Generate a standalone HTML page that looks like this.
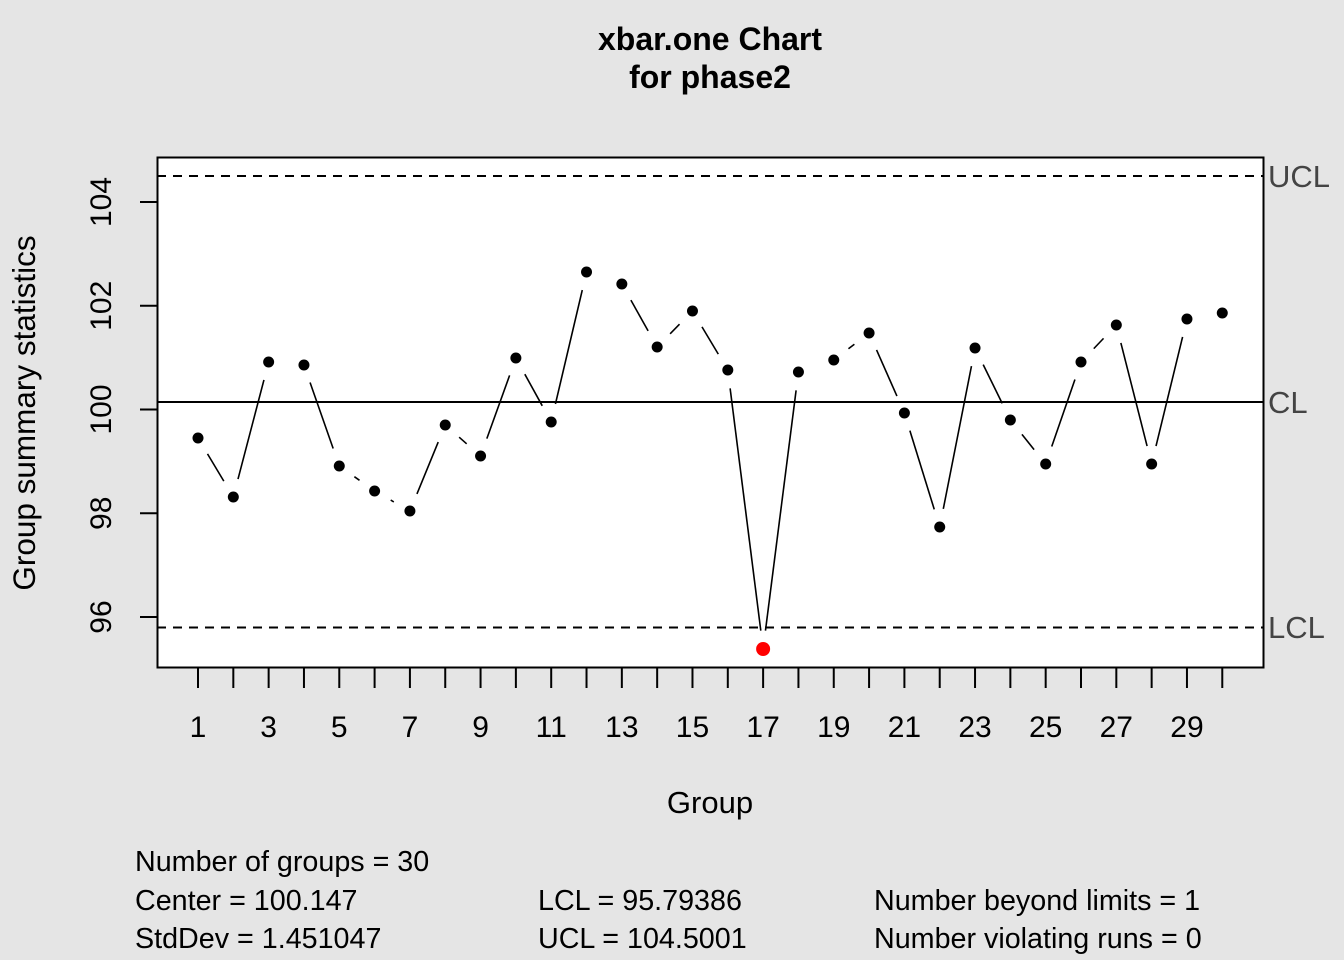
<!DOCTYPE html>
<html><head><meta charset="utf-8"><style>
html,body{margin:0;padding:0;background:#e5e5e5;}
svg{display:block;font-family:"Liberation Sans",sans-serif;}
</style></head><body>
<svg id="s" width="1344" height="960" xmlns="http://www.w3.org/2000/svg">
<rect width="1344" height="960" fill="#e5e5e5"/>
<rect x="157.5" y="157.5" width="1106" height="510" fill="#fff" stroke="#000" stroke-width="2"/>
<text x="710" y="50" font-size="32" font-weight="bold" text-anchor="middle">xbar.one Chart</text>
<text x="710" y="88" font-size="32" font-weight="bold" text-anchor="middle">for phase2</text>
<line x1="157" y1="176" x2="1263" y2="176" stroke="#000" stroke-width="2" stroke-dasharray="9,7"/>
<line x1="157" y1="627.5" x2="1263" y2="627.5" stroke="#000" stroke-width="2" stroke-dasharray="9,7"/>
<line x1="157" y1="402" x2="1263" y2="402" stroke="#000" stroke-width="2"/>
<g font-size="31" fill="#444">
<text x="1268" y="187">UCL</text><text x="1268" y="413">CL</text><text x="1268" y="638">LCL</text>
</g>
<g id="yt" font-size="30"></g>
<g id="xt" font-size="30"></g>
<g id="ser"></g>
<text x="710" y="813" font-size="31" text-anchor="middle">Group</text>
<text transform="translate(35,413) rotate(-90)" font-size="31.5" text-anchor="middle">Group summary statistics</text>
<g font-size="28.7">
<text x="135" y="871">Number of groups = 30</text>
<text x="135" y="910">Center = 100.147</text>
<text x="135" y="948">StdDev = 1.451047</text>
<text x="538" y="910">LCL = 95.79386</text>
<text x="538" y="948">UCL = 104.5001</text>
<text x="874" y="910">Number beyond limits = 1</text>
<text x="874" y="948">Number violating runs = 0</text>
</g>
</svg>
<script>
var NS="http://www.w3.org/2000/svg";
function el(p,t,a,txt){var e=document.createElementNS(NS,t);for(var k in a)e.setAttribute(k,a[k]);if(txt!=null)e.textContent=txt;document.getElementById(p).appendChild(e);}
var yv=[96,98,100,102,104];
yv.forEach(function(v){var y=617-(v-96)*51.875;el("yt","line",{x1:140,y1:y,x2:157,y2:y,stroke:"#000","stroke-width":2});
el("yt","text",{transform:"translate(111,"+y+") rotate(-90)","text-anchor":"middle"},v);});
function gx(i){return 198+(i-1)*35.32;}
for(var i=1;i<=30;i++){var x=gx(i);el("xt","line",{x1:x,y1:668,x2:x,y2:688,stroke:"#000","stroke-width":2});
if(i%2==1)el("xt","text",{x:x,y:737,"text-anchor":"middle"},i);}
var py=[438,497,362,365,466,491,511,425,456,358,422,272,284,347,311,370,649,372,360,333,413,527,348,420,464,362,325,464,319,313];
var g=18.5;
for(var i=0;i<29;i++){var x1=gx(i+1),y1=py[i],x2=gx(i+2),y2=py[i+1];var dx=x2-x1,dy=y2-y1,L=Math.sqrt(dx*dx+dy*dy);
if(L>2*g+1){var ux=dx/L,uy=dy/L;el("ser","line",{x1:x1+ux*g,y1:y1+uy*g,x2:x2-ux*g,y2:y2-uy*g,stroke:"#000","stroke-width":1.6});}}
for(var i=0;i<30;i++){el("ser","circle",{cx:gx(i+1),cy:py[i],r:i==16?7:5.5,fill:i==16?"#f00":"#000"});}
</script>
</body></html>
